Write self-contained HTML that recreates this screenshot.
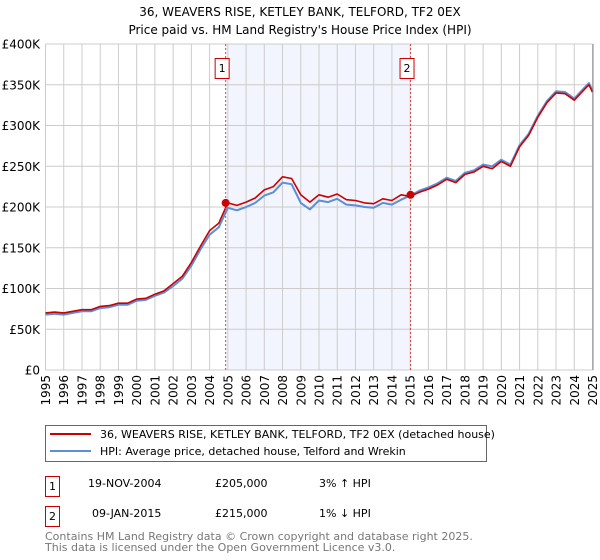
<!DOCTYPE html>
<html><head><meta charset="utf-8"><style>
html,body{margin:0;padding:0;background:#fff;}
svg{display:block;font-family:"DejaVu Sans","Liberation Sans",sans-serif;}
</style></head><body>
<svg id="chart" width="600" height="560" viewBox="0 0 600 560" xmlns="http://www.w3.org/2000/svg">
<text x="300" y="16" text-anchor="middle" font-size="12" fill="#000">36, WEAVERS RISE, KETLEY BANK, TELFORD, TF2 0EX</text>
<text x="300" y="34" text-anchor="middle" font-size="12" fill="#000">Price paid vs. HM Land Registry's House Price Index (HPI)</text>
<g id="plot"></g>
<g>
<rect x="45.5" y="425.5" width="441" height="36" fill="#fff" stroke="#666" stroke-width="1"/>
<line x1="50" y1="434" x2="91" y2="434" stroke="#cc0000" stroke-width="2"/>
<text x="100" y="438" font-size="11">36, WEAVERS RISE, KETLEY BANK, TELFORD, TF2 0EX (detached house)</text>
<line x1="50" y1="451" x2="91" y2="451" stroke="#5b8fd6" stroke-width="2"/>
<text x="100" y="455" font-size="11">HPI: Average price, detached house, Telford and Wrekin</text>
</g>
<g font-size="11">
<rect x="45.5" y="476.5" width="14" height="20" fill="#fff" stroke="#cc0000"/>
<text x="52.5" y="490" text-anchor="middle">1</text>
<text x="88" y="487">19-NOV-2004</text>
<text x="215" y="487">£205,000</text>
<text x="319" y="487">3% ↑ HPI</text>
<rect x="45.5" y="506.5" width="14" height="20" fill="#fff" stroke="#cc0000"/>
<text x="52.5" y="520" text-anchor="middle">2</text>
<text x="92" y="517">09-JAN-2015</text>
<text x="215" y="517">£215,000</text>
<text x="319" y="517">1% ↓ HPI</text>
</g>
<text x="45" y="540" font-size="11" fill="#777">Contains HM Land Registry data © Crown copyright and database right 2025.</text>
<text x="45" y="551" font-size="11" fill="#777">This data is licensed under the Open Government Licence v3.0.</text>
</svg>
<script>
const years = [1995,1995.5,1996,1996.5,1997,1997.5,1998,1998.5,1999,1999.5,2000,2000.5,2001,2001.5,2002,2002.5,2003,2003.5,2004,2004.5,2005,2005.5,2006,2006.5,2007,2007.5,2008,2008.5,2009,2009.5,2010,2010.5,2011,2011.5,2012,2012.5,2013,2013.5,2014,2014.5,2015,2015.5,2016,2016.5,2017,2017.5,2018,2018.5,2019,2019.5,2020,2020.5,2021,2021.5,2022,2022.5,2023,2023.5,2024,2024.5,2024.8,2025];
const hpiValues = [68,69,68,70,72,72,76,77,80,80,85,86,91,95,103,112,128,148,166,175,199,196,200,205,214,218,230,228,205,197,208,206,210,203,202,200,199,205,203,209,214,220,224,229,236,232,242,245,252,250,258,252,276,290,312,330,342,341,333,345,352,343];
const priceValues = [70,71,70,72,74,74,78,79,82,82,87,88,93,97,106,115,132,152,171,180,205,202,206,211,221,225,237,235,215,206,215,212,216,209,208,205,204,210,208,215,213,218,222,227,234,230,240,243,250,247,256,250,274,288,310,328,340,339,331,343,350,341];
const saleYears = [2004.88,2015.02];
const saleValues = [205,215];
const saleLabels = ["1","2"];
const yTicks = [0,50,100,150,200,250,300,350,400];
const yTickLabels = ["£0","£50K","£100K","£150K","£200K","£250K","£300K","£350K","£400K"];
const xTicks = [1995,1996,1997,1998,1999,2000,2001,2002,2003,2004,2005,2006,2007,2008,2009,2010,2011,2012,2013,2014,2015,2016,2017,2018,2019,2020,2021,2022,2023,2024,2025];

const L=45.5,R=593,T=44,B=370;
const X0=1995,X1=2025,YMAX=400;
const xs=y=>L+(y-X0)/(X1-X0)*(592.7-45.7);
const ys=v=>B-v/YMAX*(B-T);
const NS="http://www.w3.org/2000/svg";
const plot=document.getElementById('plot');
function mk(tag,attrs,parent){const e=document.createElementNS(NS,tag);for(const k in attrs)e.setAttribute(k,attrs[k]);(parent||plot).appendChild(e);return e;}

const bg=mk('rect',{x:L,y:T,width:R-L,height:B-T,fill:'#fff'});


const shade=mk('rect',{x:xs(saleYears[0]),y:T,width:xs(saleYears[1])-xs(saleYears[0]),height:B-T,fill:'#f2f5fd'});



yTicks.forEach((v,i)=>{
  const g=mk('line',{x1:L,x2:R,y1:ys(v),y2:ys(v),stroke:'#cccccc','stroke-width':1});
  
  
  const t=mk('text',{x:40,y:ys(v)+4.5,'text-anchor':'end','font-size':12,fill:'#000'});
  t.textContent=yTickLabels[i];
  
  
});
xTicks.forEach(yr=>{
  const x=xs(yr);
  const g=mk('line',{x1:x,x2:x,y1:T,y2:B,stroke:'#cccccc','stroke-width':1});
  
  
  const grp=mk('g',{transform:'translate('+(x+4.5).toFixed(1)+',375) rotate(-90)'});
  const t=mk('text',{x:0,y:0,'text-anchor':'end','font-size':12,fill:'#000'},grp);
  t.textContent=yr;
  
  
});

function pathFor(vals){return vals.map((v,i)=>(i?'L':'M')+xs(years[i]).toFixed(1)+','+ys(v).toFixed(1)).join(' ');}
const hp=mk('path',{d:pathFor(hpiValues),fill:'none',stroke:'#5b8fd6','stroke-width':2,'stroke-linejoin':'round'});


const pp=mk('path',{d:pathFor(priceValues),fill:'none',stroke:'#cc0000','stroke-width':1.6,'stroke-linejoin':'round'});



saleYears.forEach((yr,i)=>{
  const x=xs(yr);
  const l=mk('line',{x1:x,x2:x,y1:T,y2:B,stroke:'#dd4444','stroke-width':1,'stroke-dasharray':'2,2'});
  
  
  const c=mk('circle',{cx:x,cy:ys(saleValues[i]),r:4,fill:'#cc0000'});
  
  
  const b=mk('rect',{x:x-10.5,y:58.5,width:14,height:20,fill:'#fff',stroke:'#cc0000'});
  
  
  const t=mk('text',{x:x-3.5,y:72,'text-anchor':'middle','font-size':11,fill:'#000'});
  t.textContent=saleLabels[i];
  
  
});
const ax=mk('line',{x1:R,x2:R,y1:T,y2:B,stroke:'#888','stroke-width':1});


</script>
</body></html>
